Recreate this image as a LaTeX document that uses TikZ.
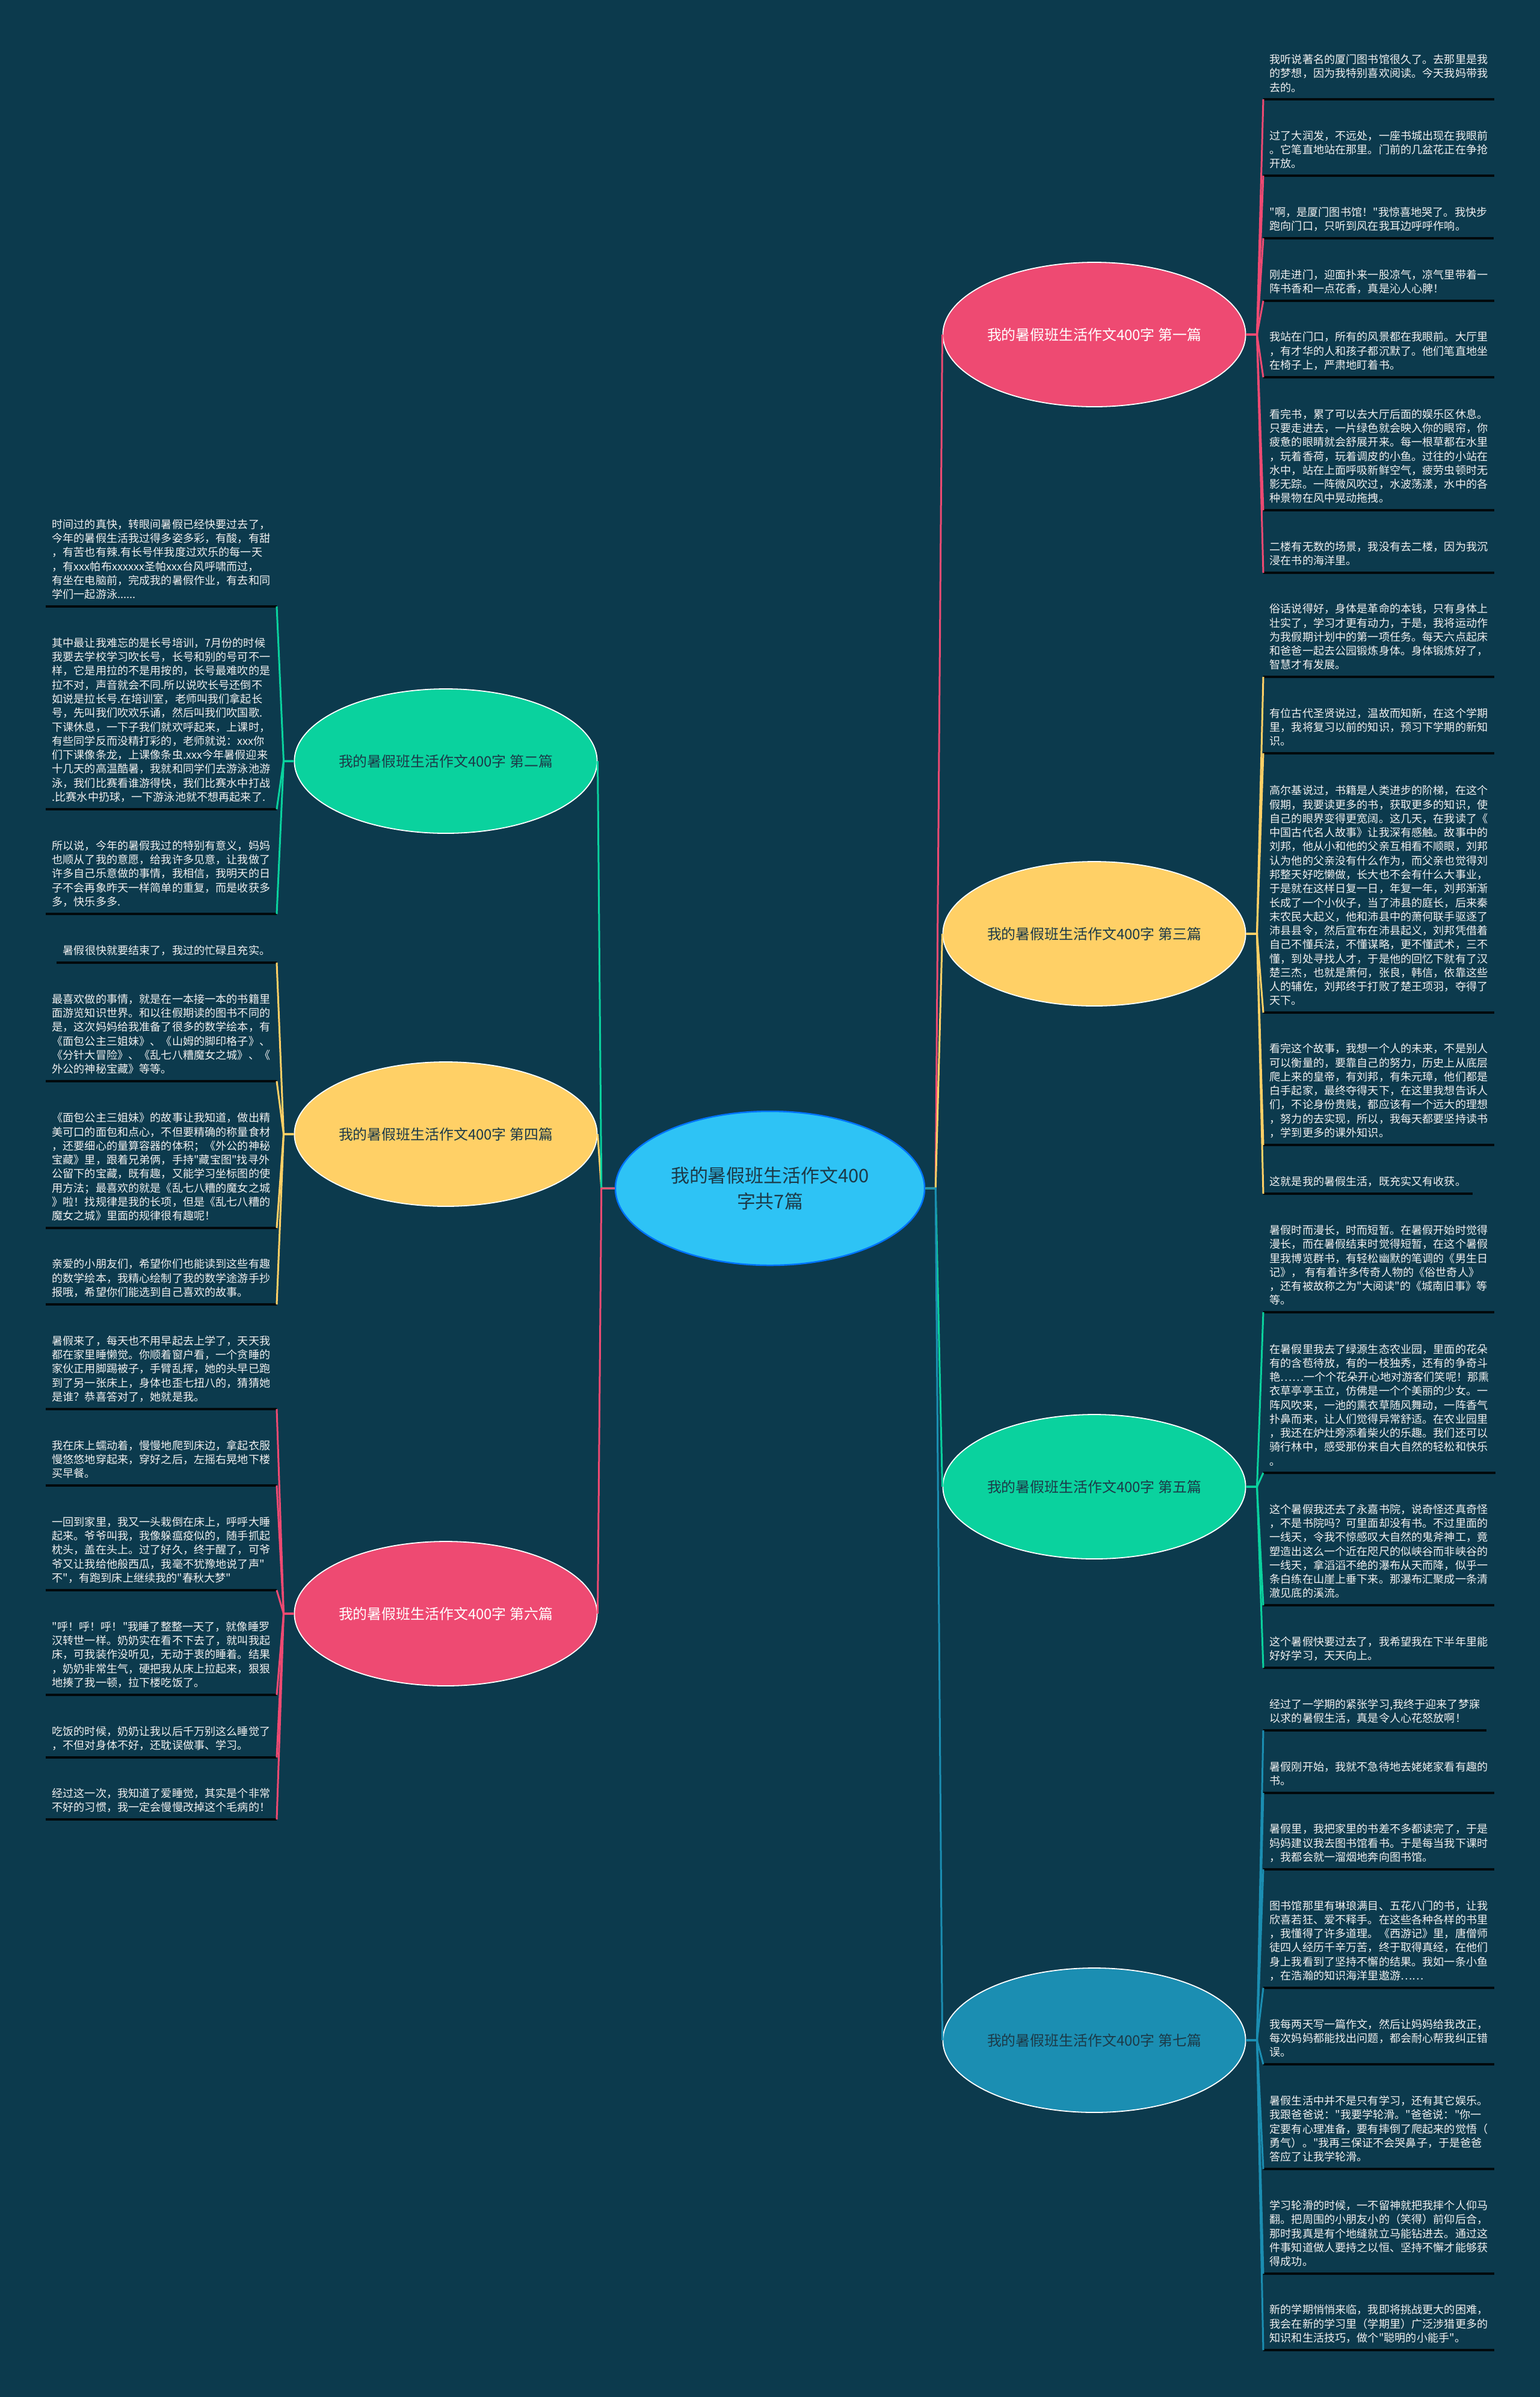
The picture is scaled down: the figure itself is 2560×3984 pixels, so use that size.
\documentclass[tikz,border=0pt]{standalone}
\usepackage{fontspec}
\usepackage{tikz}
\usetikzlibrary{shapes.geometric,positioning}
\newfontfamily\cjkfont{Noto Sans CJK SC}
\definecolor{backdrop}{RGB}{12,58,77}
\definecolor{rosered}{RGB}{238,74,114}
\definecolor{mintgreen}{RGB}{10,210,158}
\definecolor{sunyellow}{RGB}{255,208,102}
\definecolor{seablue}{RGB}{27,142,178}
\definecolor{skyblue}{RGB}{46,195,245}
\definecolor{inkdark}{RGB}{28,58,72}

\begin{document}
\begin{tikzpicture}[x=0.1mm,y=-0.1mm,
  hubnode/.style={ellipse,draw=blue!55!cyan,line width=0.25mm,fill=skyblue,minimum width=51.4mm,minimum height=25.6mm,inner sep=0pt,align=center,text=inkdark,font=\cjkfont\fontsize{8.8pt}{12.2pt}\selectfont},
  topic/.style={ellipse,draw=white,line width=0.18mm,minimum width=49.8mm,minimum height=24mm,inner sep=0pt,text=inkdark,font=\cjkfont\fontsize{6.8pt}{9pt}\selectfont},
  leaf/.style={align=left,inner xsep=1mm,inner ysep=1.1mm,text=white!94!black,font=\cjkfont\fontsize{5.16pt}{6.62pt}\selectfont,
    append after command={(\tikzlastnode.south west) edge[underrule] (\tikzlastnode.south east)}},
  rleaf/.style={leaf,anchor=south west},
  lleaf/.style={leaf,anchor=south east},
  underrule/.style={draw=black!85!backdrop,line width=0.35mm},
  branch/.style={line width=0.3mm}
]
\fill[backdrop] (0,0) rectangle (2560,3984);

\node[hubnode] (hub) at (1280,1975) {我的暑假班生活作文400\\字共7篇};

\node[topic,fill=rosered,text=white] (t1) at (1819,556) {我的暑假班生活作文400字 第一篇};
\node[topic,fill=mintgreen] (t2) at (741,1265) {我的暑假班生活作文400字 第二篇};
\node[topic,fill=sunyellow] (t3) at (1819,1552) {我的暑假班生活作文400字 第三篇};
\node[topic,fill=sunyellow] (t4) at (741,1885) {我的暑假班生活作文400字 第四篇};
\node[topic,fill=mintgreen] (t5) at (1819,2471) {我的暑假班生活作文400字 第五篇};
\node[topic,fill=rosered,text=white] (t6) at (741,2682) {我的暑假班生活作文400字 第六篇};
\node[topic,fill=seablue] (t7) at (1819,3391) {我的暑假班生活作文400字 第七篇};

\coordinate (hr) at ([xshift=1.7mm]hub.east);
\coordinate (hl) at ([xshift=-2.2mm]hub.west);
\foreach \t in {1,3,5,7} \coordinate (f\t) at ([xshift=1.8mm]t\t.east);
\foreach \t in {2,4,6} \coordinate (f\t) at ([xshift=-1.7mm]t\t.west);

\node[rleaf] (l1a) at (2100,165) {我听说著名的厦门图书馆很久了。去那里是我\\的梦想，因为我特别喜欢阅读。今天我妈带我\\去的。};
\node[rleaf] (l1b) at (2100,292) {过了大润发，不远处，一座书城出现在我眼前\\。它笔直地站在那里。门前的几盆花正在争抢\\开放。};
\node[rleaf] (l1c) at (2100,396) {"啊，是厦门图书馆！"我惊喜地哭了。我快步\\跑向门口，只听到风在我耳边呼呼作响。};
\node[rleaf] (l1d) at (2100,500) {刚走进门，迎面扑来一股凉气，凉气里带着一\\阵书香和一点花香，真是沁人心脾！};
\node[rleaf] (l1e) at (2100,627) {我站在门口，所有的风景都在我眼前。大厅里\\，有才华的人和孩子都沉默了。他们笔直地坐\\在椅子上，严肃地盯着书。};
\node[rleaf] (l1f) at (2100,848) {看完书，累了可以去大厅后面的娱乐区休息。\\只要走进去，一片绿色就会映入你的眼帘，你\\疲惫的眼睛就会舒展开来。每一根草都在水里\\，玩着香荷，玩着调皮的小鱼。过往的小站在\\水中，站在上面呼吸新鲜空气，疲劳虫顿时无\\影无踪。一阵微风吹过，水波荡漾，水中的各\\种景物在风中晃动拖拽。};
\node[rleaf] (l1g) at (2100,952) {二楼有无数的场景，我没有去二楼，因为我沉\\浸在书的海洋里。};

\node[rleaf] (l3a) at (2100,1125) {俗话说得好，身体是革命的本钱，只有身体上\\壮实了，学习才更有动力，于是，我将运动作\\为我假期计划中的第一项任务。每天六点起床\\和爸爸一起去公园锻炼身体。身体锻炼好了，\\智慧才有发展。};
\node[rleaf] (l3b) at (2100,1252) {有位古代圣贤说过，温故而知新，在这个学期\\里，我将复习以前的知识，预习下学期的新知\\识。};
\node[rleaf] (l3c) at (2100,1683) {高尔基说过，书籍是人类进步的阶梯，在这个\\假期，我要读更多的书，获取更多的知识，使\\自己的眼界变得更宽阔。这几天，在我读了《\\中国古代名人故事》让我深有感触。故事中的\\刘邦，他从小和他的父亲互相看不顺眼，刘邦\\认为他的父亲没有什么作为，而父亲也觉得刘\\邦整天好吃懒做，长大也不会有什么大事业，\\于是就在这样日复一日，年复一年，刘邦渐渐\\长成了一个小伙子，当了沛县的庭长，后来秦\\末农民大起义，他和沛县中的萧何联手驱逐了\\沛县县令，然后宣布在沛县起义，刘邦凭借着\\自己不懂兵法，不懂谋略，更不懂武术，三不\\懂，到处寻找人才，于是他的回忆下就有了汉\\楚三杰，也就是萧何，张良，韩信，依靠这些\\人的辅佐，刘邦终于打败了楚王项羽，夺得了\\天下。};
\node[rleaf] (l3d) at (2100,1903) {看完这个故事，我想一个人的未来，不是别人\\可以衡量的，要靠自己的努力，历史上从底层\\爬上来的皇帝，有刘邦，有朱元璋，他们都是\\白手起家，最终夺得天下，在这里我想告诉人\\们，不论身份贵贱，都应该有一个远大的理想\\，努力的去实现，所以，我每天都要坚持读书\\，学到更多的课外知识。};
\node[rleaf] (l3e) at (2100,1984) {这就是我的暑假生活，既充实又有收获。};

\node[rleaf] (l5a) at (2100,2181) {暑假时而漫长，时而短暂。在暑假开始时觉得\\漫长，而在暑假结束时觉得短暂，在这个暑假\\里我博览群书，有轻松幽默的笔调的《男生日\\记》， 有有着许多传奇人物的《俗世奇人》\\，还有被故称之为"大阅读"的《城南旧事》等\\等。};
\node[rleaf] (l5b) at (2100,2448) {在暑假里我去了绿源生态农业园，里面的花朵\\有的含苞待放，有的一枝独秀，还有的争奇斗\\艳……一个个花朵开心地对游客们笑呢！那熏\\衣草亭亭玉立，仿佛是一个个美丽的少女。一\\阵风吹来，一池的熏衣草随风舞动，一阵香气\\扑鼻而来，让人们觉得异常舒适。在农业园里\\，我还在炉灶旁添着柴火的乐趣。我们还可以\\骑行林中，感受那份来自大自然的轻松和快乐\\。};
\node[rleaf] (l5c) at (2100,2668) {这个暑假我还去了永嘉书院，说奇怪还真奇怪\\，不是书院吗？可里面却没有书。不过里面的\\一线天，令我不惊感叹大自然的鬼斧神工，竟\\塑造出这么一个近在咫尺的似峡谷而非峡谷的\\一线天，拿滔滔不绝的瀑布从天而降，似乎一\\条白练在山崖上垂下来。那瀑布汇聚成一条清\\澈见底的溪流。};
\node[rleaf] (l5d) at (2100,2772) {这个暑假快要过去了，我希望我在下半年里能\\好好学习，天天向上。};

\node[rleaf] (l7a) at (2100,2876) {经过了一学期的紧张学习,我终于迎来了梦寐\\以求的暑假生活，真是令人心花怒放啊！};
\node[rleaf] (l7b) at (2100,2980) {暑假刚开始，我就不急待地去姥姥家看有趣的\\书。};
\node[rleaf] (l7c) at (2100,3107) {暑假里，我把家里的书差不多都读完了，于是\\妈妈建议我去图书馆看书。于是每当我下课时\\，我都会就一溜烟地奔向图书馆。};
\node[rleaf] (l7d) at (2100,3304) {图书馆那里有琳琅满目、五花八门的书，让我\\欣喜若狂、爱不释手。在这些各种各样的书里\\，我懂得了许多道理。《西游记》里，唐僧师\\徒四人经历千辛万苦，终于取得真经，在他们\\身上我看到了坚持不懈的结果。我如一条小鱼\\，在浩瀚的知识海洋里遨游……};
\node[rleaf] (l7e) at (2100,3431) {我每两天写一篇作文，然后让妈妈给我改正，\\每次妈妈都能找出问题，都会耐心帮我纠正错\\误。};
\node[rleaf] (l7f) at (2100,3605) {暑假生活中并不是只有学习，还有其它娱乐。\\我跟爸爸说："我要学轮滑。"爸爸说："你一\\定要有心理准备，要有摔倒了爬起来的觉悟（\\勇气）。"我再三保证不会哭鼻子，于是爸爸\\答应了让我学轮滑。};
\node[rleaf] (l7g) at (2100,3779) {学习轮滑的时候，一不留神就把我摔个人仰马\\翻。把周围的小朋友小的（笑得）前仰后合，\\那时我真是有个地缝就立马能钻进去。通过这\\件事知道做人要持之以恒、坚持不懈才能够获\\得成功。};
\node[rleaf] (l7h) at (2100,3906) {新的学期悄悄来临，我即将挑战更大的困难，\\我会在新的学习里（学期里）广泛涉猎更多的\\知识和生活技巧，做个"聪明的小能手"。};

\node[lleaf] (l2a) at (460,1008) {时间过的真快，转眼间暑假已经快要过去了，\\今年的暑假生活我过得多姿多彩，有酸，有甜\\，有苦也有辣.有长号伴我度过欢乐的每一天\\，有xxx帕布xxxxxx圣帕xxx台风呼啸而过，\\有坐在电脑前，完成我的暑假作业，有去和同\\学们一起游泳......};
\node[lleaf] (l2b) at (460,1345) {其中最让我难忘的是长号培训，7月份的时候\\我要去学校学习吹长号，长号和别的号可不一\\样，它是用拉的不是用按的，长号最难吹的是\\拉不对，声音就会不同.所以说吹长号还倒不\\如说是拉长号.在培训室，老师叫我们拿起长\\号，先叫我们吹欢乐诵，然后叫我们吹国歌.\\下课休息，一下子我们就欢呼起来，上课时，\\有些同学反而没精打彩的，老师就说：xxx你\\们下课像条龙，上课像条虫.xxx今年暑假迎来\\十几天的高温酷暑，我就和同学们去游泳池游\\泳，我们比赛看谁游得快，我们比赛水中打战\\.比赛水中扔球，一下游泳池就不想再起来了.};
\node[lleaf] (l2c) at (460,1519) {所以说，今年的暑假我过的特别有意义，妈妈\\也顺从了我的意愿，给我许多见意，让我做了\\许多自己乐意做的事情，我相信，我明天的日\\子不会再象昨天一样简单的重复，而是收获多\\多，快乐多多.};

\node[lleaf] (l4a) at (460,1600) {暑假很快就要结束了，我过的忙碌且充实。};
\node[lleaf] (l4b) at (460,1797) {最喜欢做的事情，就是在一本接一本的书籍里\\面游览知识世界。和以往假期读的图书不同的\\是，这次妈妈给我准备了很多的数学绘本，有\\《面包公主三姐妹》、《山姆的脚印格子》、\\《分针大冒险》、《乱七八糟魔女之城》、《\\外公的神秘宝藏》等等。};
\node[lleaf] (l4c) at (460,2041) {《面包公主三姐妹》的故事让我知道，做出精\\美可口的面包和点心，不但要精确的称量食材\\，还要细心的量算容器的体积；《外公的神秘\\宝藏》里，跟着兄弟俩，手持"藏宝图"找寻外\\公留下的宝藏，既有趣，又能学习坐标图的使\\用方法；最喜欢的就是《乱七八糟的魔女之城\\》啦！找规律是我的长项，但是《乱七八糟的\\魔女之城》里面的规律很有趣呢！};
\node[lleaf] (l4d) at (460,2168) {亲爱的小朋友们，希望你们也能读到这些有趣\\的数学绘本，我精心绘制了我的数学途游手抄\\报哦，希望你们能选到自己喜欢的故事。};

\node[lleaf] (l6a) at (460,2342) {暑假来了，每天也不用早起去上学了，天天我\\都在家里睡懒觉。你顺着窗户看，一个贪睡的\\家伙正用脚踢被子，手臂乱挥，她的头早已跑\\到了另一张床上，身体也歪七扭八的，猜猜她\\是谁？恭喜答对了，她就是我。};
\node[lleaf] (l6b) at (460,2469) {我在床上蠕动着，慢慢地爬到床边，拿起衣服\\慢悠悠地穿起来，穿好之后，左摇右晃地下楼\\买早餐。};
\node[lleaf] (l6c) at (460,2643) {一回到家里，我又一头栽倒在床上，呼呼大睡\\起来。爷爷叫我，我像躲瘟疫似的，随手抓起\\枕头，盖在头上。过了好久，终于醒了，可爷\\爷又让我给他般西瓜，我毫不犹豫地说了声"\\不"，有跑到床上继续我的"春秋大梦"};
\node[lleaf] (l6d) at (460,2817) {"呼！呼！呼！"我睡了整整一天了，就像睡罗\\汉转世一样。奶奶实在看不下去了，就叫我起\\床，可我装作没听见，无动于衷的睡着。结果\\，奶奶非常生气，硬把我从床上拉起来，狠狠\\地揍了我一顿，拉下楼吃饭了。};
\node[lleaf] (l6e) at (460,2921) {吃饭的时候，奶奶让我以后千万别这么睡觉了\\，不但对身体不好，还耽误做事、学习。};
\node[lleaf] (l6f) at (460,3024) {经过这一次，我知道了爱睡觉，其实是个非常\\不好的习惯，我一定会慢慢改掉这个毛病的！};

\draw[branch,sunyellow] (hub.west) -- (hl) -- (t4.east);
\draw[branch,mintgreen] (hub.west) -- (hl) -- (t2.east);
\draw[branch,rosered] (hub.west) -- (hl) -- (t6.east);
\draw[branch,rosered] (hub.east) -- (hr) -- (t1.west);
\draw[branch,sunyellow] (hub.east) -- (hr) -- (t3.west);
\draw[branch,mintgreen] (hub.east) -- (hr) -- (t5.west);
\draw[branch,seablue] (hub.east) -- (hr) -- (t7.west);

\foreach \k in {a,...,g} \draw[branch,rosered] (t1.east) -- (f1) -- (l1\k.south west);
\foreach \k in {a,...,e} \draw[branch,sunyellow] (t3.east) -- (f3) -- (l3\k.south west);
\foreach \k in {a,...,d} \draw[branch,mintgreen] (t5.east) -- (f5) -- (l5\k.south west);
\foreach \k in {a,...,h} \draw[branch,seablue] (t7.east) -- (f7) -- (l7\k.south west);
\foreach \k in {a,...,c} \draw[branch,mintgreen] (t2.west) -- (f2) -- (l2\k.south east);
\foreach \k in {a,...,d} \draw[branch,sunyellow] (t4.west) -- (f4) -- (l4\k.south east);
\foreach \k in {a,...,f} \draw[branch,rosered] (t6.west) -- (f6) -- (l6\k.south east);
\end{tikzpicture}
\end{document}
